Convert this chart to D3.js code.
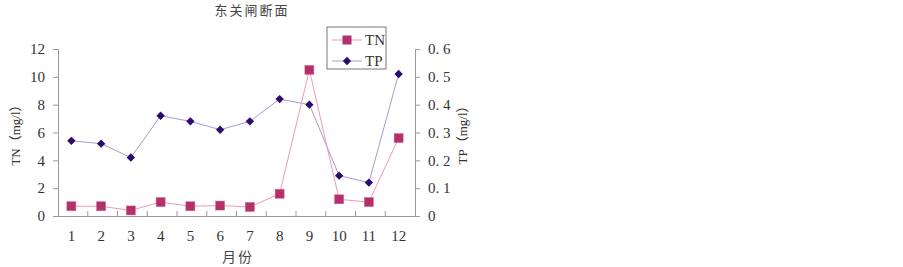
<!DOCTYPE html>
<html>
<head>
<meta charset="utf-8">
<script src="https://cdn.jsdelivr.net/npm/d3@7"></script>
<style>
    body { margin: 0; background: #fff; }
    text { font-family: "Liberation Serif", "Noto Sans CJK SC", serif; fill: #333; }
    .cjk { font-family: "Noto Sans CJK SC", sans-serif; }
    .axis path, .axis line { stroke: #999; }
</style>
</head>
<body>
<div id="chart"></div>
<script>
const months = ["1", "2", "3", "4", "5", "6", "7", "8", "9", "10", "11", "12"];
const tnValues = [0.7, 0.7, 0.4, 1.0, 0.7, 0.75, 0.65, 1.6, 10.5, 1.2, 1.0, 5.6];
const tpValues = [0.27, 0.26, 0.21, 0.36, 0.34, 0.31, 0.34, 0.42, 0.40, 0.145, 0.12, 0.51];
const tnTicks = [0, 2, 4, 6, 8, 10, 12];
const tpTicks = [0, 0.1, 0.2, 0.3, 0.4, 0.5, 0.6];

const W = 903, H = 267;
const plotLeft = 58, plotRight = 415, plotTop = 49, plotBottom = 216;

let svg = d3.select("#chart").append("svg")
    .attr("width", W).attr("height", H);

let x = d3.scaleBand()
    .domain(months)
    .range([plotLeft, plotRight]);

let yL = d3.scaleLinear().domain([0, 12]).range([plotBottom, plotTop]);
let yR = d3.scaleLinear().domain([0, 0.6]).range([plotBottom, plotTop]);

// title
svg.append("text")
    .attr("class", "cjk")
    .attr("x", 252).attr("y", 15)
    .attr("text-anchor", "middle")
    .style("font-size", "13px")
    .style("letter-spacing", "2px")
    .style("fill", "#444")
    .text("东关闸断面");

// x-axis
let xa = svg.append("g")
    .attr("class", "axis")
    .attr("transform", "translate(0," + plotBottom + ")")
    .call(d3.axisBottom(x).tickSize(0).tickPadding(14).tickSizeOuter(0));
xa.selectAll("text").style("font-size", "15px").attr("dx", "-1.5");
// x ticks between categories
xa.selectAll(".sep")
    .data(months.slice(1))
    .enter().append("line")
    .attr("x1", d => x(d)).attr("x2", d => x(d))
    .attr("y1", 0).attr("y2", -5)
    .attr("stroke", "#999");

// left axis
let la = svg.append("g")
    .attr("class", "axis")
    .attr("transform", "translate(" + plotLeft + ",0)")
    .call(d3.axisLeft(yL).tickValues(tnTicks).tickSize(5).tickPadding(8));
la.selectAll("text").style("font-size", "15px");

// right axis
let ra = svg.append("g")
    .attr("class", "axis")
    .attr("transform", "translate(" + plotRight + ",0)")
    .call(d3.axisRight(yR).tickValues(tpTicks).tickSize(5).tickPadding(8)
          .tickFormat(d => d === 0 ? "0" : d3.format(".1f")(d).replace(".", ". ")));
ra.selectAll("text").style("font-size", "15px");

// axis titles
svg.append("text")
    .attr("transform", "translate(20,132) rotate(-90)")
    .attr("text-anchor", "middle")
    .style("font-size", "13px")
    .text("TN（mg/l）");

svg.append("text")
    .attr("transform", "translate(467,132) rotate(-90)")
    .attr("text-anchor", "middle")
    .style("font-size", "13px")
    .text("TP（mg/l）");

svg.append("text")
    .attr("class", "cjk")
    .attr("x", 238).attr("y", 262)
    .attr("text-anchor", "middle")
    .style("font-size", "14px")
    .style("letter-spacing", "2px")
    .style("fill", "#444")
    .text("月份");

let cx = d => x(d) + x.bandwidth() / 2 - 1.5;

// TP line
svg.append("path")
    .datum(tpValues)
    .attr("fill", "none")
    .attr("stroke", "#a898d0")
    .attr("stroke-width", 1)
    .attr("d", d3.line().x((d, i) => cx(months[i])).y(d => yR(d)));

// TN line
svg.append("path")
    .datum(tnValues)
    .attr("fill", "none")
    .attr("stroke", "#ee99bb")
    .attr("stroke-width", 1)
    .attr("d", d3.line().x((d, i) => cx(months[i])).y(d => yL(d)));

// TP markers
let diamond = d3.symbol().type(d3.symbolDiamond2).size(45);
svg.selectAll(".tp")
    .data(tpValues)
    .enter().append("path")
    .attr("transform", (d, i) => "translate(" + cx(months[i]) + "," + yR(d) + ")")
    .attr("d", diamond)
    .attr("fill", "#2c0a6e");

// TN markers
svg.selectAll(".tn")
    .data(tnValues)
    .enter().append("rect")
    .attr("x", (d, i) => cx(months[i]) - 4.5)
    .attr("y", d => yL(d) - 4.5)
    .attr("width", 9).attr("height", 9)
    .attr("fill", "#b3306b")
    .attr("stroke", "#d06090")
    .attr("stroke-width", 0.5);

// legend
let lg = svg.append("g").attr("transform", "translate(327,27)");
lg.append("rect")
    .attr("width", 59).attr("height", 42)
    .attr("fill", "#fff").attr("stroke", "#777");
lg.append("line").attr("x1", 5).attr("x2", 35).attr("y1", 13).attr("y2", 13)
    .attr("stroke", "#ee99bb");
lg.append("rect").attr("x", 15.5).attr("y", 8.5).attr("width", 9).attr("height", 9)
    .attr("fill", "#b3306b");
lg.append("text").attr("x", 38).attr("y", 18).style("font-size", "15px").text("TN");
lg.append("line").attr("x1", 5).attr("x2", 35).attr("y1", 34).attr("y2", 34)
    .attr("stroke", "#a898d0");
lg.append("path").attr("transform", "translate(20,34)").attr("d", diamond)
    .attr("fill", "#2c0a6e");
lg.append("text").attr("x", 38).attr("y", 39).style("font-size", "15px").text("TP");
</script>
</body>
</html>
